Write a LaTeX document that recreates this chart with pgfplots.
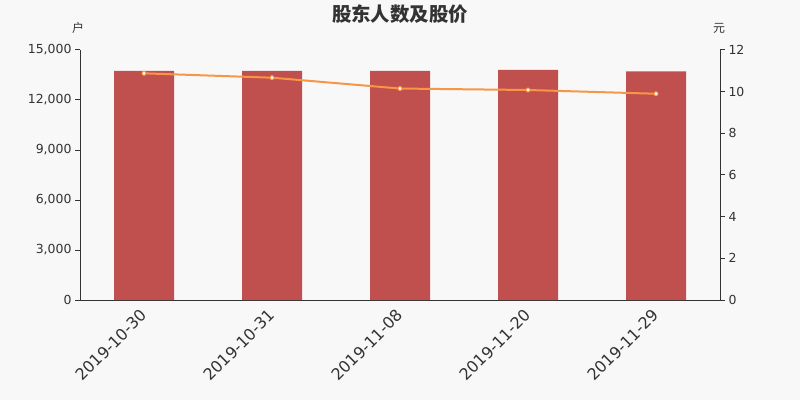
\documentclass[border=0pt]{standalone}
\usepackage{fontspec}
\setmainfont{DejaVu Sans}
\newfontfamily\cjk{Noto Sans CJK SC}
\usepackage{pgfplots}
\pgfplotsset{compat=1.18}
\definecolor{bg}{RGB}{248,248,248}
\definecolor{barc}{RGB}{192,80,77}
\definecolor{linec}{RGB}{247,150,70}
\definecolor{txt}{RGB}{51,51,51}
\begin{document}
\begin{tikzpicture}[x=1bp,y=1bp]
\fill[bg] (0,0) rectangle (800,400);
\path[use as bounding box] (0,0) rectangle (800,400);
\begin{axis}[
  at={(80bp,100bp)}, anchor=south west,
  scale only axis, width=640bp, height=250bp,
  xmin=-0.5, xmax=4.5, ymin=0, ymax=15000,
  axis x line*=bottom, axis y line*=left,
  axis line style={-, txt, line width=1bp},
  xtick={0,1,2,3,4},
  xticklabels={2019-10-30,2019-10-31,2019-11-08,2019-11-20,2019-11-29},
  x tick style={draw=none},
  x tick label style={rotate=45, anchor=north east, font=\fontsize{16}{16}\selectfont, text=txt, inner sep=1bp, xshift=-4bp, yshift=2bp},
  extra x ticks={-0.5,0.5,1.5,2.5,3.5,4.5},
  extra x tick labels={},
  extra x tick style={tick style={draw=txt, line width=1bp}},
  ytick={0,3000,6000,9000,12000,15000},
  scaled y ticks=false,
  /pgf/number format/fixed,
  /pgf/number format/1000 sep={,},
  y tick label style={font=\fontsize{12.5}{12.5}\selectfont, text=txt},
  /pgf/number format/assume math mode=true,
  tick align=outside, major tick length=5bp,
  tick style={txt, line width=1bp},
  clip=false,
]
\addplot[ybar, bar width=60bp, fill=barc, draw=none] coordinates {
  (0,13740) (1,13740) (2,13740) (3,13800) (4,13720)
};
\end{axis}
\begin{axis}[
  at={(80bp,100bp)}, anchor=south west,
  scale only axis, width=640bp, height=250bp,
  xmin=-0.5, xmax=4.5, ymin=0, ymax=12,
  axis x line=none, axis y line*=right,
  axis line style={-, txt, line width=1bp},
  ytick={0,2,4,6,8,10,12},
  y tick label style={font=\fontsize{12.5}{12.5}\selectfont, text=txt},
  /pgf/number format/assume math mode=true,
  tick align=outside, major tick length=5bp,
  tick style={txt, line width=1bp},
  clip=false,
]
\addplot[linec, line width=2bp, mark=*, mark size=2bp, mark options={fill=white, draw=linec, line width=1bp}] coordinates {
  (0,10.88) (1,10.67) (2,10.15) (3,10.08) (4,9.90)
};
\end{axis}
\node[text=txt, font=\cjk\fontsize{12}{12}\selectfont] at (78,372) {户};
\node[text=txt, font=\cjk\fontsize{12}{12}\selectfont] at (719,372) {元};
\node[text=txt, font=\cjk\bfseries\fontsize{19.5}{19.5}\selectfont] at (400,386) {股东人数及股价};
\end{tikzpicture}
\end{document}
